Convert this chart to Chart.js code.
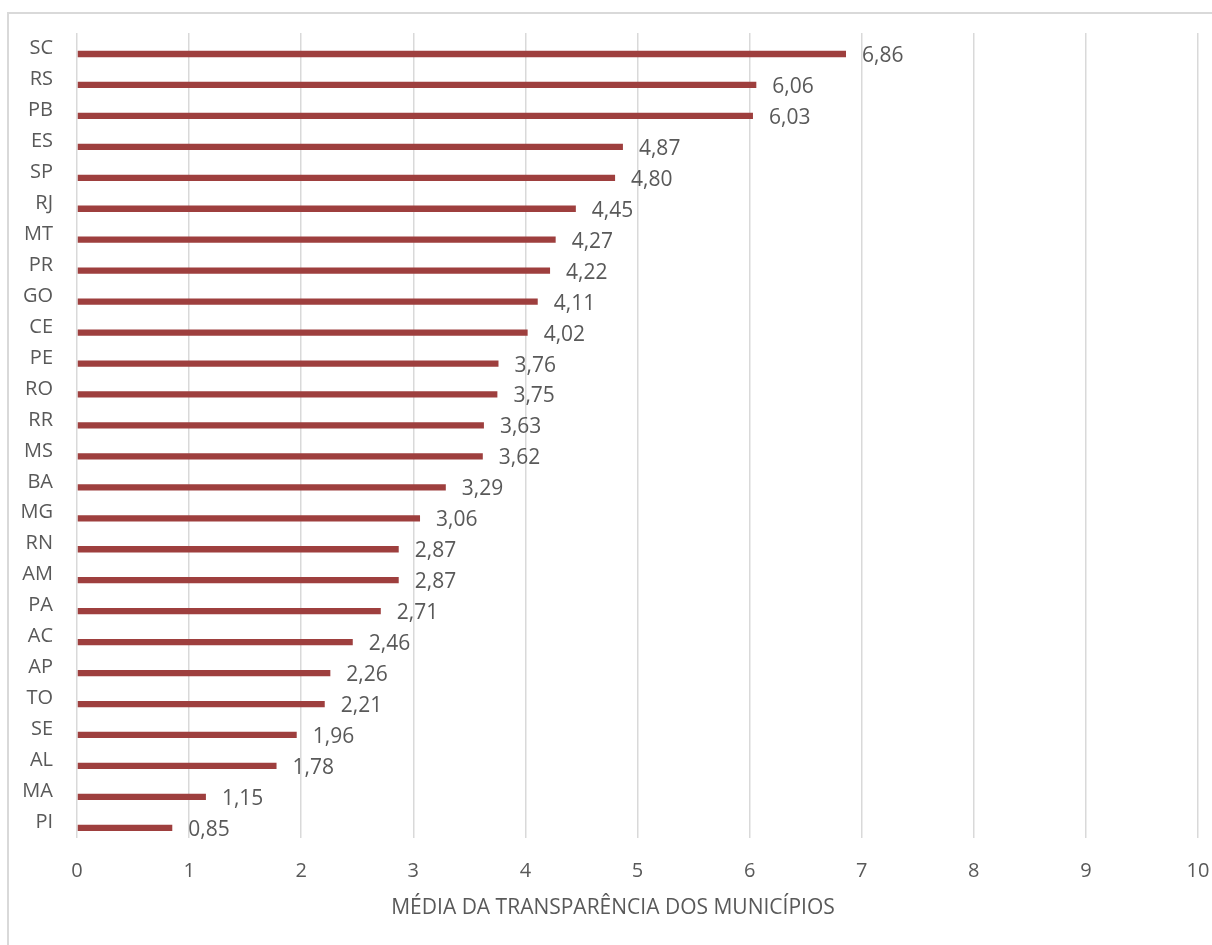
<!DOCTYPE html>
<html>
<head>
<meta charset="utf-8">
<script src="https://cdn.jsdelivr.net/npm/chart.js@4.4.1/dist/chart.umd.min.js"></script>
<style>
  html, body { margin: 0; padding: 0; background: #fff; overflow: hidden; }
  #frame {
    position: absolute; left: 7px; top: 12px; width: 1205px; height: 933px;
    border-top: 2px solid #D9D9D9; border-left: 2px solid #D9D9D9;
  }
  #wrap { position: absolute; left: 0; top: 0; width: 1212px; height: 945px; }
</style>
</head>
<body>
<div id="frame"></div>
<div id="wrap"><canvas id="chart"></canvas></div>
<script>
const states = ['SC', 'RS', 'PB', 'ES', 'SP', 'RJ', 'MT', 'PR', 'GO', 'CE', 'PE', 'RO', 'RR',
  'MS', 'BA', 'MG', 'RN', 'AM', 'PA', 'AC', 'AP', 'TO', 'SE', 'AL', 'MA', 'PI'];
const averages = [6.86, 6.06, 6.03, 4.87, 4.80, 4.45, 4.27, 4.22, 4.11, 4.02, 3.76, 3.75, 3.63,
  3.62, 3.29, 3.06, 2.87, 2.87, 2.71, 2.46, 2.26, 2.21, 1.96, 1.78, 1.15, 0.85];
const xTicks = [0, 1, 2, 3, 4, 5, 6, 7, 8, 9, 10];
const axisTitle = 'MÉDIA DA TRANSPARÊNCIA DOS MUNICÍPIOS';

const textColor = '#595959';
const fontFamily = '"Open Sans", sans-serif';

// value labels to the right of each bar, decimal comma
const valueLabels = {
  id: 'valueLabels',
  afterDatasetsDraw(chart) {
    const ctx = chart.ctx;
    const meta = chart.getDatasetMeta(1);
    ctx.save();
    ctx.font = '21px ' + fontFamily;
    ctx.fillStyle = textColor;
    ctx.textAlign = 'left';
    ctx.textBaseline = 'middle';
    meta.data.forEach((bar, i) => {
      const txt = averages[i].toFixed(2).replace('.', ',');
      ctx.fillText(txt, bar.x + 16, bar.y + 2);
    });
    ctx.restore();
  }
};

new Chart(document.getElementById('chart'), {
  type: 'bar',
  data: {
    labels: states,
    datasets: [
      { label: '', data: states.map(() => null) },
      {
        label: 'Média',
        data: averages,
        backgroundColor: '#9E3F3E',
        borderWidth: 0
      }
    ]
  },
  options: {
    indexAxis: 'y',
    responsive: true,
    maintainAspectRatio: false,
    animation: false,
    categoryPercentage: 0.712,
    barPercentage: 0.57,
    layout: { padding: { top: 33, right: 0, left: 14, bottom: 0 } },
    plugins: {
      legend: { display: false },
      tooltip: { enabled: false },
      // axis title sits under the whole chart, like the original
      title: {
        display: true,
        position: 'bottom',
        text: axisTitle,
        color: textColor,
        font: { family: fontFamily, size: 21, weight: 'normal' },
        padding: { top: 0, bottom: 24 }
      }
    },
    scales: {
      x: {
        min: 0,
        max: 10,
        afterBuildTicks: scale => { scale.ticks = xTicks.map(v => ({ value: v })); },
        afterFit: scale => {
          scale.height = 58;
          scale.paddingLeft = 0;
          scale.paddingRight = 14;
        },
        grid: { color: '#D9D9D9', lineWidth: 1.5, drawTicks: false },
        border: { display: false },
        ticks: { color: textColor, font: { family: fontFamily, size: 20 }, padding: 21 }
      },
      y: {
        afterFit: scale => {
          scale.width = 63;
          scale.paddingTop = 0;
          scale.paddingBottom = 0;
        },
        grid: { display: false, drawTicks: false },
        border: { display: false },
        ticks: { color: textColor, font: { family: fontFamily, size: 20 }, padding: 24, autoSkip: false }
      }
    }
  },
  plugins: [valueLabels]
});
</script>
</body>
</html>
